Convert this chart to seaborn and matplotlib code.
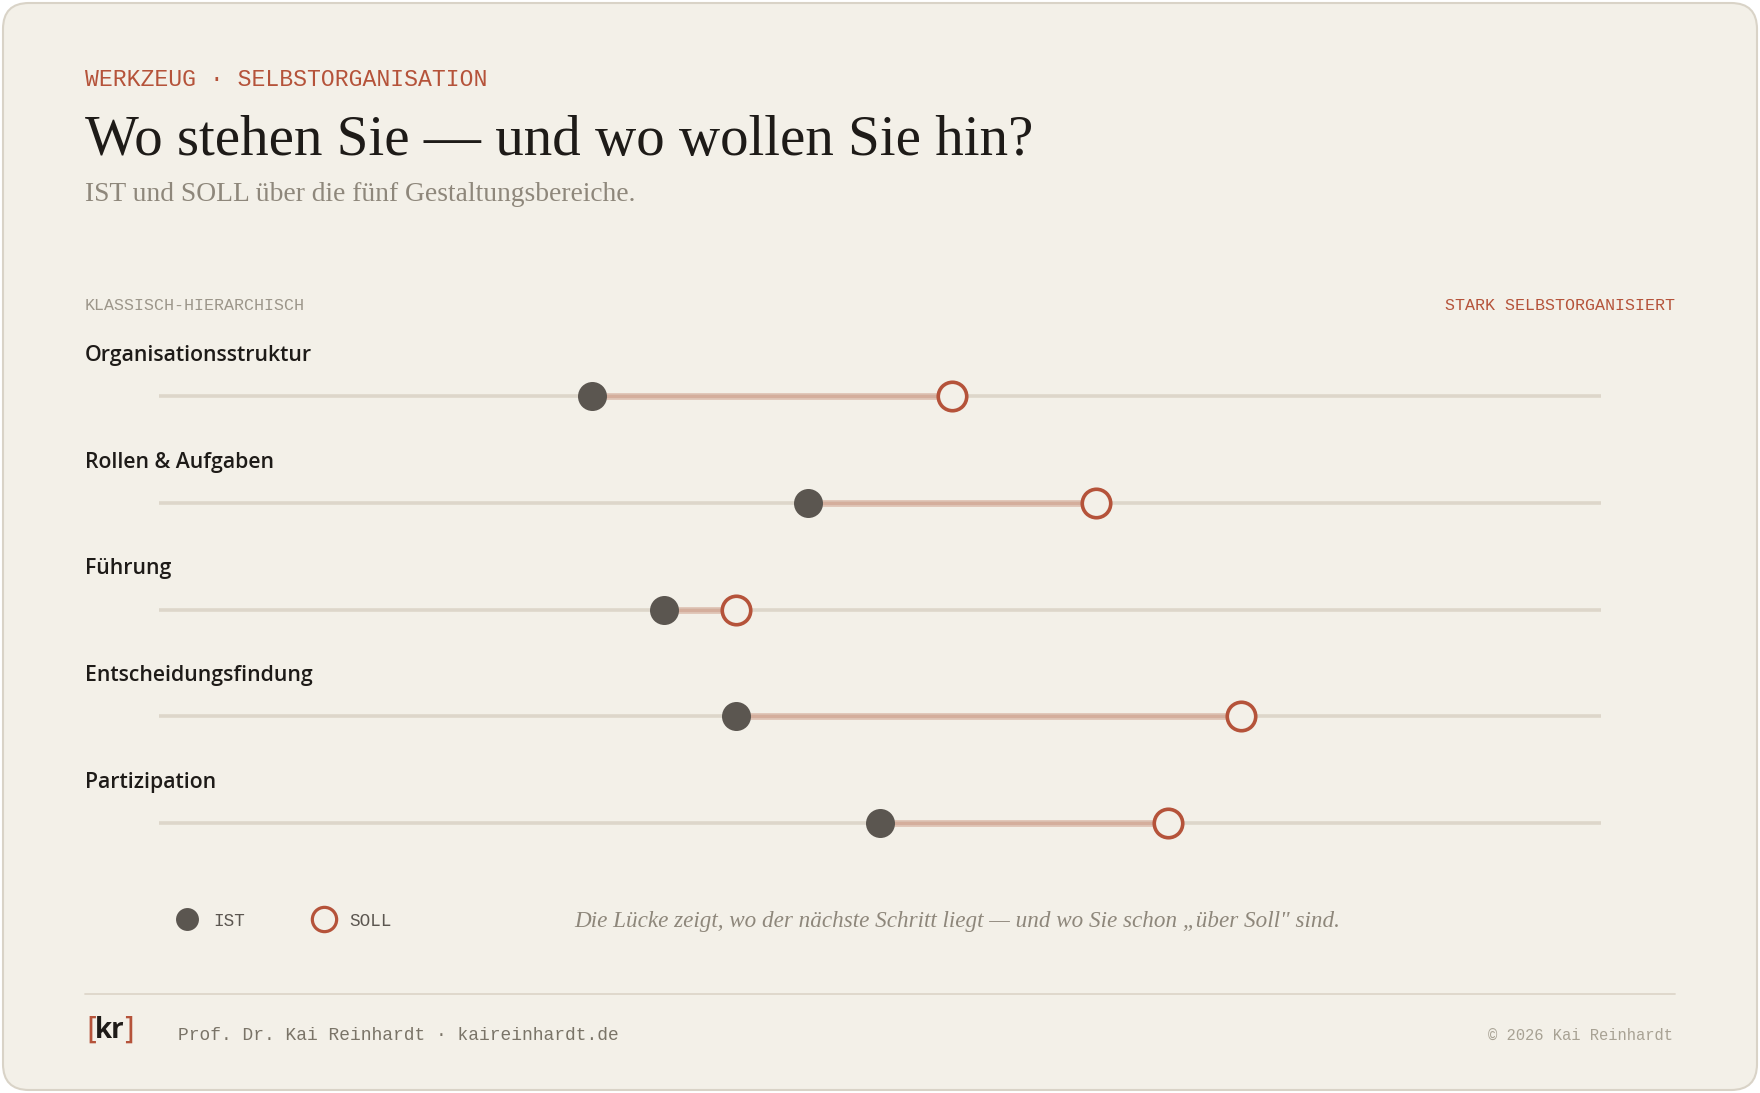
import numpy as np
import pandas as pd
import matplotlib.pyplot as plt
import seaborn as sns
from matplotlib.patches import FancyBboxPatch
from matplotlib.lines import Line2D
from matplotlib.transforms import blended_transform_factory

# === Daten ===
bereiche = ["Organisationsstruktur", "Rollen & Aufgaben", "Führung",
            "Entscheidungsfindung", "Partizipation"]
ist_werte = [30, 45, 35, 40, 50]
soll_werte = [55, 65, 40, 75, 70]

# === Farben ===
BG = "#F3F0E8"
RAND = "#D9D3C7"
ROT = "#B5533A"
DUNKEL = "#5B5650"
SPUR = "#DDD6CA"
LUECKE = "#D9B6A6"
GRAU = "#8E877B"

sns.set_theme(style="white")
plt.rcParams['font.family'] = ['DejaVu Sans']

df = pd.DataFrame({"bereich": bereiche, "ist": ist_werte, "soll": soll_werte})
df["row"] = np.arange(len(df))

W, H = 1760, 1093
fig = plt.figure(figsize=(W / 100, H / 100), dpi=100, facecolor="white")

# Karte
card = FancyBboxPatch((0.03, 0.03), W / 100 - 0.06, H / 100 - 0.06,
                      boxstyle="round,pad=0,rounding_size=0.26",
                      transform=fig.dpi_scale_trans, facecolor=BG,
                      edgecolor=RAND, linewidth=1.5, zorder=0)
fig.add_artist(card)

# Achse fuer die Hanteln
ax = fig.add_axes([159 / W, 1 - 876.4 / H, 1442 / W, 533.75 / H])
ax.set_facecolor("none")
ax.set_xlim(0, 100)
ax.set_ylim(len(df) - 0.5, -0.5)
ax.axis("off")

# Spuren
ax.hlines(df["row"], 0, 100, color=SPUR, lw=2.6, zorder=1)
# Luecke
ax.hlines(df["row"], df["ist"], df["soll"], color=LUECKE, lw=5, alpha=0.7, zorder=2)
ax.hlines(df["row"], df["ist"], df["soll"], color="#D3AA98", lw=2.4, alpha=0.8, zorder=2)

sns.scatterplot(data=df, x="ist", y="row", ax=ax, s=436, color=DUNKEL,
                edgecolor=DUNKEL, linewidth=0, zorder=4, clip_on=False, legend=False)
sns.scatterplot(data=df, x="soll", y="row", ax=ax, s=420, color=BG,
                edgecolor=ROT, linewidth=2.6, zorder=4, clip_on=False, legend=False)

# Bereichsnamen
tr = blended_transform_factory(fig.transFigure, ax.transData)
for i, name in enumerate(bereiche):
    ax.text(85 / W, i - 0.38, name, transform=tr, ha="left", va="center",
            fontsize=15.3, fontweight="semibold", family="Open Sans", color="#1E1B18")

# Kopf
mono = "Liberation Mono"
fig.text(85 / W, 1 - 79 / H, "WERKZEUG · SELBSTORGANISATION", fontsize=16.7,
         family=mono, color=ROT, ha="left", va="center")
fig.text(85 / W, 1 - 140.5 / H, "Wo stehen Sie — und wo wollen Sie hin?", fontsize=41,
         family="Liberation Serif", color="#1E1B18", ha="left", va="center")
fig.text(85 / W, 1 - 194.5 / H, "IST und SOLL über die fünf Gestaltungsbereiche.",
         fontsize=19.8, family="Liberation Serif", color=GRAU, ha="left", va="center")

fig.text(85 / W, 1 - 305 / H, "KLASSISCH-HIERARCHISCH", fontsize=12, family=mono,
         color="#9C968A", ha="left", va="center")
fig.text(1675 / W, 1 - 305 / H, "STARK SELBSTORGANISIERT", fontsize=12, family=mono,
         color=ROT, ha="right", va="center")

# Legende
handles = [Line2D([], [], marker="o", ls="", markersize=16.5, color=DUNKEL, mew=0),
           Line2D([], [], marker="o", ls="", markersize=17.5, markerfacecolor=BG,
                  markeredgecolor=ROT, mew=2.3)]
fig.legend(handles, ["IST", "SOLL"], loc="center left",
           bbox_to_anchor=(161 / W, 1 - 921 / H), ncol=2, frameon=False,
           handletextpad=0.88, columnspacing=3.83, handlelength=1.2,
           prop={"family": mono, "size": 12.7}, labelcolor=DUNKEL)

fig.text(574 / W, 1 - 922 / H,
         "Die Lücke zeigt, wo der nächste Schritt liegt — und wo Sie schon „über Soll\" sind.",
         fontsize=16.7, style="italic", family="Liberation Serif", color=GRAU,
         ha="left", va="center")

# Fuss
fig.add_artist(Line2D([85 / W, 1675 / W], [1 - 994 / H, 1 - 994 / H],
                      transform=fig.transFigure, color=SPUR, lw=1.3))
fig.text(86 / W, 1 - 1030 / H, "[", fontsize=22, color=ROT, ha="left", va="center",
         family="DejaVu Sans")
fig.text(95 / W, 1 - 1030 / H, "kr", fontsize=20, color="#1E1B18", ha="left",
         va="center", fontweight="bold", family="Open Sans")
fig.text(122 / W, 1 - 1030 / H, "]", fontsize=22, color=ROT, ha="left", va="center",
         family="DejaVu Sans")
fig.text(178 / W, 1 - 1036 / H, "Prof. Dr. Kai Reinhardt · kaireinhardt.de",
         fontsize=12.85, family=mono, color="#7A7468", ha="left", va="center")
fig.text(1673 / W, 1 - 1035 / H, "© 2026 Kai Reinhardt", fontsize=11.2, family=mono,
         color="#A8A294", ha="right", va="center")

fig.savefig("out.png", dpi=100, facecolor=fig.get_facecolor())
